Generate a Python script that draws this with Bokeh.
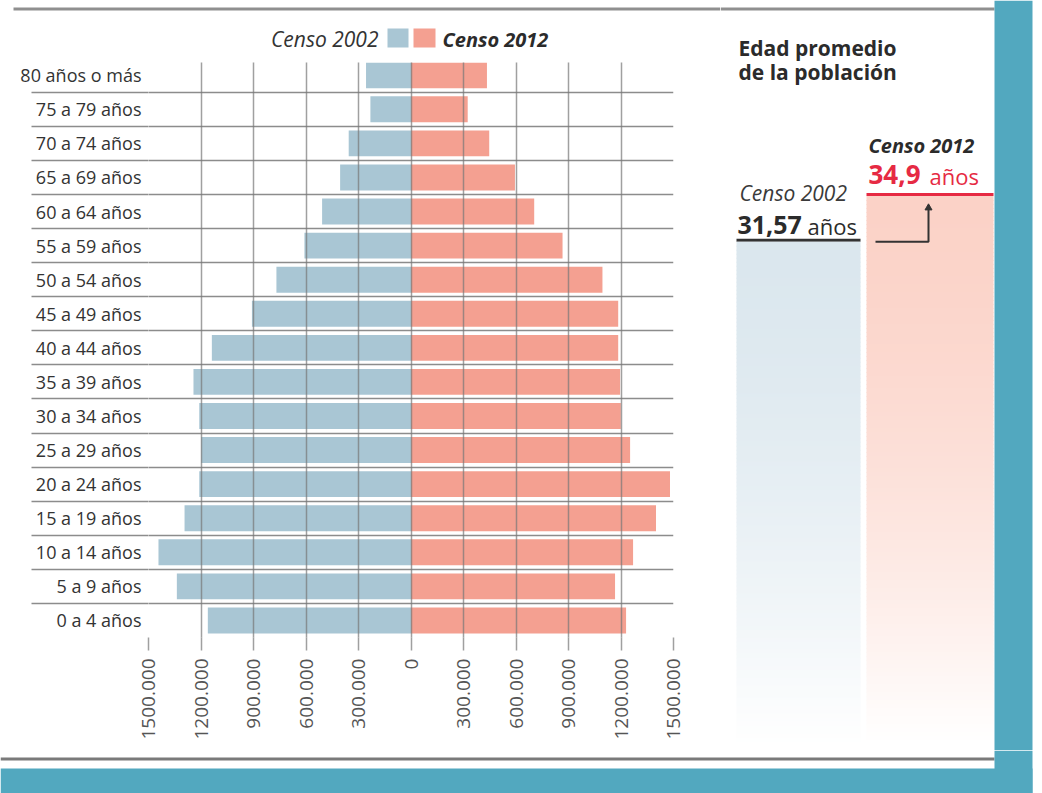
import math
from bokeh.plotting import figure
from bokeh.layouts import row, column
from bokeh.models import FixedTicker, BoxAnnotation, Label, Range1d
from bokeh.embed import file_html
from bokeh.resources import INLINE

# ---------------- data ----------------
grupos = ["0 a 4 años", "5 a 9 años", "10 a 14 años", "15 a 19 años", "20 a 24 años",
          "25 a 29 años", "30 a 34 años", "35 a 39 años", "40 a 44 años", "45 a 49 años",
          "50 a 54 años", "55 a 59 años", "60 a 64 años", "65 a 69 años", "70 a 74 años",
          "75 a 79 años", "80 años o más"]
censo_2002 = [1161000, 1338000, 1443000, 1294000, 1210000, 1199000, 1210000, 1243000,
              1138000, 909000, 769000, 609000, 508000, 405000, 356000, 232000, 257000]
censo_2012 = [1229000, 1166000, 1269000, 1400000, 1480000, 1252000, 1199000, 1195000,
              1184000, 1184000, 1094000, 866000, 704000, 594000, 447000, 324000, 434000]
x_ticks = [-1500000, -1200000, -900000, -600000, -300000, 0,
           300000, 600000, 900000, 1200000, 1500000]
x_tick_labels = ["1500.000", "1200.000", "900.000", "600.000", "300.000", "0",
                 "300.000", "600.000", "900.000", "1200.000", "1500.000"]
serie_2002 = "Censo 2002"
serie_2012 = "Censo 2012"
edad_promedio_2002 = 31.57
edad_promedio_2012 = 34.9
edad_texto_2002 = "31,57"
edad_texto_2012 = "34,9"

# ---------------- styles ----------------
AZUL = "#a9c6d4"
SALMON = "#f4a091"
TEAL = "#52a8bf"
ROJO = "#e62a43"
OSCURO = "#2b2b2b"
GRIS_REGLA = "#8f8f8f"
FONT = "Open Sans"

W, H = 1042, 793
LEFT_W = 720          # width of the pyramid figure
HEAD_H = 62           # header height (legend)
MAIN_H = 688          # pyramid figure height
MID_BOTTOM = HEAD_H + MAIN_H


def deco_fig(x0, x1, y0, y1):
    """A blank figure whose data coordinates equal page pixels (y downwards)."""
    f = figure(width=x1 - x0, height=y1 - y0,
               x_range=Range1d(x0, x1), y_range=Range1d(y1, y0),
               output_backend="svg", toolbar_location=None,
               x_axis_type=None, y_axis_type=None, min_border=0)
    f.outline_line_color = None
    f.xgrid.visible = False
    f.ygrid.visible = False
    f.background_fill_color = "white"
    f.border_fill_color = "white"
    return f


def box(f, L, R, T, B, color, alpha=1.0):
    f.add_layout(BoxAnnotation(left=L, right=R, top=T, bottom=B,
                               fill_color=color, fill_alpha=alpha, line_color=None,
                               level="underlay"))


def label(f, text, X, baseline, size, color=OSCURO, style="normal", align="left"):
    # text is placed by its middle; convert from the wanted baseline
    f.add_layout(Label(x=X, y=baseline - 0.37 * size, text=text,
                       text_font=FONT, text_font_size=f"{size}px", text_font_style=style,
                       text_color=color, text_align=align, text_baseline="middle"))


# ---------------- header: rule + legend ----------------
head = deco_fig(0, LEFT_W, 0, HEAD_H)
box(head, 13, LEFT_W, 7, 10, GRIS_REGLA)
label(head, serie_2002, 378, 46, 21, "#333333", "italic", "right")
box(head, 387, 408, 28, 47, AZUL)
box(head, 413, 435, 28, 47, SALMON)
label(head, serie_2012, 442, 46, 20, OSCURO, "bold italic")

# ---------------- pyramid ----------------
ys = list(range(len(grupos)))
p = figure(width=LEFT_W, height=MAIN_H,
           x_range=Range1d(-1500000, 1500000), y_range=Range1d(-0.5, 16.373),
           output_backend="svg", toolbar_location=None,
           min_border_left=148, min_border_right=LEFT_W - 673,
           min_border_top=0, min_border_bottom=MAIN_H - 575)
p.outline_line_color = None
p.background_fill_color = "white"
p.border_fill_color = "white"

p.hbar(y=ys, left=[-v for v in censo_2002], right=0, height=0.76,
       fill_color=AZUL, line_color=None)
p.hbar(y=ys, left=0, right=censo_2012, height=0.76,
       fill_color=SALMON, line_color=None)

p.xaxis.ticker = FixedTicker(ticks=x_ticks)
p.xaxis.major_label_overrides = {t: l for t, l in zip(x_ticks, x_tick_labels)}
p.xaxis.axis_line_color = None
p.xaxis.major_tick_line_color = "#a0a0a0"
p.xaxis.major_tick_line_width = 1.5
p.xaxis.major_tick_out = 13
p.xaxis.major_tick_in = 0
p.xaxis.minor_tick_line_color = None
p.xaxis.major_label_orientation = math.pi / 2
p.xaxis.major_label_standoff = 8
p.xaxis.major_label_text_font = FONT
p.xaxis.major_label_text_font_size = "19px"
p.xaxis.major_label_text_color = "#555555"

p.xgrid.grid_line_color = "#777777"
p.xgrid.grid_line_alpha = 0.7
p.xgrid.grid_line_width = 1.5
p.xgrid.level = "annotation"

SEP_OUT = 117
p.yaxis.ticker = FixedTicker(ticks=ys, minor_ticks=[i + 0.5 for i in ys[:-1]])
p.yaxis.major_label_overrides = {i: g for i, g in zip(ys, grupos)}
p.yaxis.axis_line_color = None
p.yaxis.major_tick_line_color = None
p.yaxis.major_tick_out = 0
p.yaxis.major_tick_in = 0
p.yaxis.minor_tick_line_color = "#8c8c8c"
p.yaxis.minor_tick_line_width = 1.5
p.yaxis.minor_tick_out = SEP_OUT
p.yaxis.minor_tick_in = 0
p.yaxis.major_label_standoff = 7 - SEP_OUT
p.yaxis.major_label_text_font = FONT
p.yaxis.major_label_text_font_size = "18px"
p.yaxis.major_label_text_color = "#333333"

p.ygrid.grid_line_color = None
p.ygrid.minor_grid_line_color = "#8c8c8c"
p.ygrid.minor_grid_line_width = 1.5

# ---------------- right panel: average age ----------------
rp = deco_fig(LEFT_W, W, 0, MID_BOTTOM)
box(rp, LEFT_W, 994, 7, 10, GRIS_REGLA)
box(rp, 994, 1032, 0, MID_BOTTOM, TEAL)
label(rp, "Edad promedio", 738, 55, 21, OSCURO, "bold")
label(rp, "de la población", 738, 79, 21, OSCURO, "bold")

BASE, K, FADE_END = 677, 13.8, 742
top02 = BASE - edad_promedio_2002 * K
top12 = BASE - edad_promedio_2012 * K


def _mix_white(hex_color, k):
    r, g, b = (int(hex_color[i:i + 2], 16) for i in (1, 3, 5))
    return "#%02x%02x%02x" % tuple(round(255 - (255 - c) * k) for c in (r, g, b))


def gradient(f, L, R, T, B, color, step=4):
    """Fading column made of opaque strips that overlap by one pixel (no seams)."""
    n = max(1, int(math.ceil((B - T) / step)))
    tops, bots, cols = [], [], []
    for j in range(n):
        t = (j + 0.5) / n
        tops.append(T + j * step)
        bots.append(min(B, T + (j + 1) * step + 1))
        cols.append(_mix_white(color, max(0.0, 1 - t ** 1.6)))
    f.quad(left=L, right=R, top=tops, bottom=bots, fill_color=cols, line_color=None)


gradient(rp, 736, 860, top02, min(FADE_END, MID_BOTTOM), "#dbe7ee")
gradient(rp, 866, 993, top12, min(FADE_END, MID_BOTTOM), "#fbd2c7")
box(rp, 736, 860, top02 - 3, top02, "#333333")
box(rp, 866, 993, top12 - 3, top12, ROJO)

label(rp, serie_2012, 868, top12 - 43, 20, OSCURO, "bold italic")
label(rp, edad_texto_2012, 868, top12 - 11.5, 26, ROJO, "bold")
label(rp, "años", 929, top12 - 11.5, 22, ROJO)
label(rp, serie_2002, 739, top02 - 41, 21, "#3a3a3a", "italic")
label(rp, edad_texto_2002, 737, top02 - 8, 25, OSCURO, "bold")
label(rp, "años", 807, top02 - 8, 22, OSCURO)

rp.line(x=[875, 928, 928], y=[top02, top02, top12 + 14], line_color="#333333", line_width=2)
rp.scatter(x=[928], y=[top12 + 12], marker="triangle", size=7,
           fill_color="#333333", line_color="#333333")

# ---------------- footer ----------------
foot = deco_fig(0, W, MID_BOTTOM, H)
box(foot, 0, 994, 757, 760, "#7a7a7a")
box(foot, 994, 1032, MID_BOTTOM, H, TEAL)
box(foot, 0, 1032, 768, H, TEAL)

# nested single-child rows keep Bokeh from aligning the frames of neighbouring figures
left_col = column(row(head), row(p))
layout = column(row(left_col, rp), foot)
open("out.html", "w").write(file_html(layout, INLINE))
